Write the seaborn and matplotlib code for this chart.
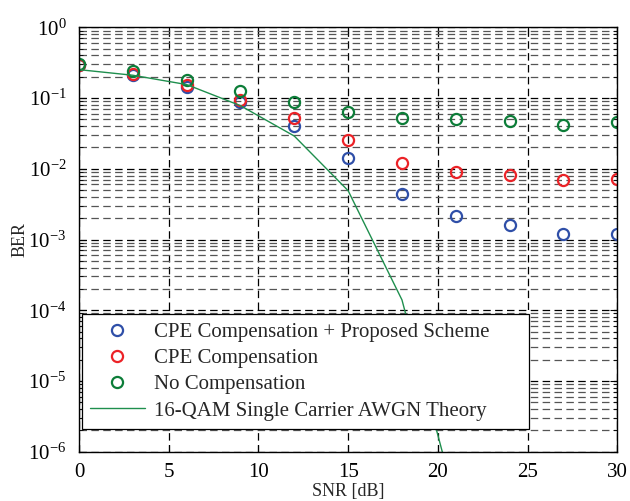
import numpy as np
import pandas as pd
import matplotlib
matplotlib.use("Agg")
import matplotlib.pyplot as plt
import seaborn as sns
from matplotlib.ticker import LogLocator, NullFormatter

# ---- data ----
snr = [0, 3, 6, 9, 12, 15, 18, 21, 24, 27, 30]
ber_proposed = [0.29, 0.215, 0.1445, 0.0879, 0.0402, 0.0142, 0.00444, 0.00213, 0.0016, 0.00121, 0.00121]
ber_cpe = [0.295, 0.221, 0.154, 0.0938, 0.0522, 0.0252, 0.0121, 0.0091, 0.00817, 0.00694, 0.00717]
ber_none = [0.303, 0.241, 0.180, 0.127, 0.0887, 0.0628, 0.0522, 0.050, 0.0478, 0.042, 0.0458]
snr_theory = [0, 3, 6, 9, 12, 15, 18, 21]
ber_theory = [0.252, 0.21, 0.155, 0.078, 0.029, 0.0049, 1.4e-4, 1.9e-7]

labels = ["CPE Compensation + Proposed Scheme", "CPE Compensation", "No Compensation"]
colors = ["#2f4fa8", "#ec2227", "#0c7d38"]
theory_label = "16-QAM Single Carrier AWGN Theory"
theory_color = "#1f8f4e"

sns.set_style("white")
plt.rcParams["font.family"] = ["Liberation Serif", "DejaVu Serif"]
plt.rcParams["mathtext.fontset"] = "custom"
plt.rcParams["mathtext.rm"] = "Liberation Serif"
plt.rcParams["mathtext.it"] = "Liberation Serif:italic"
plt.rcParams["mathtext.bf"] = "Liberation Serif:bold"

fig = plt.figure(figsize=(6.3, 5.01), dpi=100)
ax = fig.add_axes([0.1254, 0.0984, 0.8544, 0.8471])
ax.set_yscale("log")

for lab, col, vals in zip(labels, colors, [ber_proposed, ber_cpe, ber_none]):
    df = pd.DataFrame({"snr": snr, "ber": vals})
    sns.lineplot(data=df, x="snr", y="ber", ax=ax, label=lab, linestyle="none",
                 marker="o", markersize=8, markerfacecolor="none",
                 markeredgecolor=col, markeredgewidth=1.6, color=col, sort=False)

dft = pd.DataFrame({"snr": snr_theory, "ber": ber_theory})
sns.lineplot(data=dft, x="snr", y="ber", ax=ax, label=theory_label,
             color=theory_color, linewidth=1.0, sort=False)

ax.set_xlim(0, 30)
ax.set_ylim(1e-6, 1)
ax.set_xticks([0, 5, 10, 15, 20, 25, 30])
ax.yaxis.set_major_locator(LogLocator(base=10, numticks=10))
ax.yaxis.set_minor_locator(LogLocator(base=10, subs=np.arange(2, 10), numticks=20))
ax.yaxis.set_minor_formatter(NullFormatter())

ax.grid(True, which="major", axis="both", color="black", linestyle=(0, (6, 3.5)), linewidth=0.9)
ax.grid(True, which="minor", axis="y", color="#555555", linestyle=(0, (6, 3.5)), linewidth=0.9)
ax.set_axisbelow(True)

ax.tick_params(which="both", direction="in", top=True, right=True, left=True, bottom=True,
               colors="black", labelsize=15)
ax.tick_params(which="major", length=5, width=0.8)
ax.tick_params(which="minor", length=3, width=0.6)
ax.tick_params(axis="y", which="major", pad=9)
ax.tick_params(axis="x", which="major", pad=8)

for s in ax.spines.values():
    s.set_visible(True)
    s.set_color("black")
    s.set_linewidth(1.0)

ax.set_xlabel("SNR [dB]", fontsize=13)
ax.set_ylabel("BER", fontsize=13)
ax.xaxis.set_label_coords(0.5, -0.074)
ax.yaxis.set_label_coords(-0.094, 0.5)

leg = ax.legend(loc="lower left", bbox_to_anchor=(0.0056, 0.0535, 0.8305, 0.2735),
                mode="expand", borderaxespad=0,
                fontsize=15, frameon=True, fancybox=False, framealpha=1,
                edgecolor="black", handlelength=2.6, handletextpad=0.45,
                labelspacing=0.32, borderpad=0.4)
leg.get_frame().set_linewidth(0.9)

fig.savefig("out.png", dpi=100)
